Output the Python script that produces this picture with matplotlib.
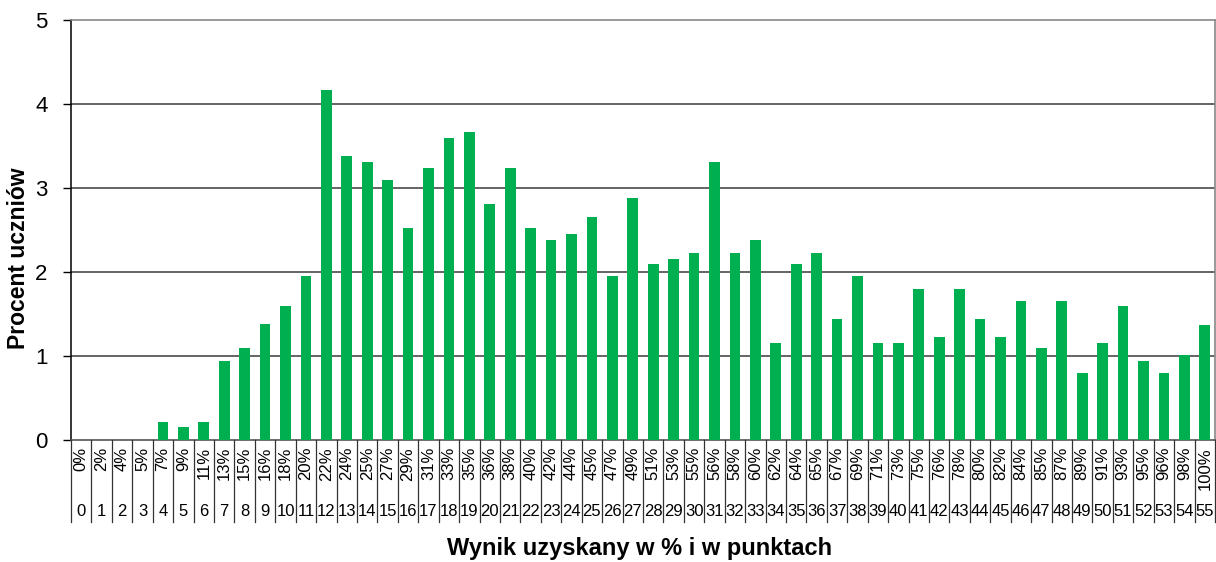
import matplotlib
matplotlib.use("Agg")
import matplotlib.pyplot as plt
import matplotlib.transforms as mtransforms

plt.rcParams['font.family'] = ['Liberation Sans', 'DejaVu Sans']

points = list(range(56))
percent_labels = ["0%", "2%", "4%", "5%", "7%", "9%", "11%", "13%", "15%", "16%",
                  "18%", "20%", "22%", "24%", "25%", "27%", "29%", "31%", "33%", "35%",
                  "36%", "38%", "40%", "42%", "44%", "45%", "47%", "49%", "51%", "53%",
                  "55%", "56%", "58%", "60%", "62%", "64%", "65%", "67%", "69%", "71%",
                  "73%", "75%", "76%", "78%", "80%", "82%", "84%", "85%", "87%", "89%",
                  "91%", "93%", "95%", "96%", "98%", "100%"]
values = [0, 0, 0, 0, 0.22, 0.15, 0.22, 0.94, 1.09, 1.38,
          1.59, 1.95, 4.17, 3.38, 3.31, 3.09, 2.52, 3.24, 3.60, 3.67,
          2.81, 3.24, 2.52, 2.38, 2.45, 2.66, 1.95, 2.88, 2.09, 2.16,
          2.23, 3.31, 2.23, 2.38, 1.16, 2.09, 2.23, 1.44, 1.95, 1.16,
          1.16, 1.80, 1.23, 1.80, 1.44, 1.23, 1.66, 1.09, 1.66, 0.80,
          1.16, 1.59, 0.94, 0.80, 1.01, 1.37]
y_ticks = [0, 1, 2, 3, 4, 5]

W, H = 1216, 562
fig = plt.figure(figsize=(W / 100, H / 100), dpi=100)
ax = fig.add_axes([71 / W, 1 - 440 / H, 1144 / W, 420 / H])

ax.bar(points, values, width=0.52, color='#00B050', zorder=3)

ax.set_xlim(-0.5, 55.5)
ax.set_ylim(0, 5)
ax.set_yticks(y_ticks)
ax.set_yticklabels([str(t) for t in y_ticks], fontsize=16)
ax.tick_params(axis='y', direction='out', length=6, width=1, pad=11, color='black')
ax.set_xticks([])

for t in y_ticks[1:5]:
    ax.axhline(t, color='#3a3a3a', lw=1.1, zorder=1)

for side in ['top', 'right']:
    ax.spines[side].set_color('#888888')
    ax.spines[side].set_linewidth(1.2)
ax.spines['left'].set_color('black')
ax.spines['left'].set_linewidth(1.1)
ax.spines['bottom'].set_color('#555555')
ax.spines['bottom'].set_linewidth(1.2)

# multi-level category dividers and labels
trans = mtransforms.blended_transform_factory(ax.transData, ax.transAxes)
px = 1 / 420.0
for i in range(57):
    xb = i - 0.5
    ax.plot([xb, xb], [0, -82 * px], transform=trans, color='#333333', lw=0.9,
            clip_on=False, zorder=4)

for p, lab in zip(points, percent_labels):
    ax.text(p, -7 * px, lab, transform=trans, rotation=90, ha='center', va='top',
            fontsize=12, clip_on=False)
    ax.text(p, -71 * px, str(p), transform=trans, ha='center', va='center',
            fontsize=12, clip_on=False)

fig.text(19 / W, 1 - 258 / H, 'Procent uczniów', rotation=90, ha='center', va='center',
         fontsize=16.5, fontweight='bold')
fig.text(640 / W, 1 - 548 / H, 'Wynik uzyskany w % i w punktach', ha='center', va='center',
         fontsize=17, fontweight='bold')

fig.savefig('out.png', dpi=100)
